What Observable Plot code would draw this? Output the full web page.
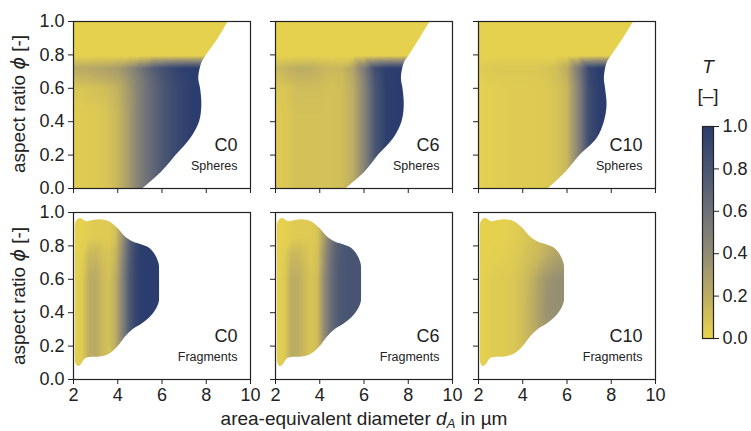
<!DOCTYPE html>
<html><head><meta charset="utf-8">
<script src="https://cdn.jsdelivr.net/npm/d3@7"></script>
<script src="https://cdn.jsdelivr.net/npm/@observablehq/plot@0.6"></script>
<style>
body{margin:0;background:#fff;}
#fig{position:relative;width:751px;height:431px;font-family:"Liberation Sans",Arial,sans-serif;color:#222;overflow:hidden;background:#fff}
#fig svg{position:absolute;overflow:visible;background:transparent}
.lbl{position:absolute;white-space:nowrap;font-size:19px;line-height:1;}
.phi{font-family:"DejaVu Sans";font-style:italic;}
</style></head><body><div id="fig"></div>
<script>
// ---- categories / ticks
const concentrations = ["C0", "C6", "C10"];
const particleTypes = ["Spheres", "Fragments"];
const xTicks = [2, 4, 6, 8, 10];
const yTicks = [0, 0.2, 0.4, 0.6, 0.8, 1.0];
const colorTicks = [0, 0.2, 0.4, 0.6, 0.8, 1.0];
const colorStops = [0, 0.2, 0.4, 0.6, 0.8, 1.0];
const colorRange = ["#ead54d", "#bdad63", "#928c74", "#6e7178", "#4a5672", "#2b3d6e"];

// ---- spheres: right edge of the populated region (d at each phi)
const spherePhi = [0, 0.1, 0.2, 0.3, 0.4, 0.5, 0.6, 0.66, 0.75, 0.8, 0.9, 1.0];
const sphereEdgeC0 = [5.15, 6.0, 6.65, 7.3, 7.7, 7.8, 7.74, 7.66, 7.8, 8.02, 8.56, 9.0];
const sphereEdgeC6 = [5.2, 6.06, 6.66, 7.34, 7.72, 7.82, 7.76, 7.69, 7.82, 8.06, 8.54, 9.0];
const sphereEdgeC10 = [5.17, 5.97, 6.6, 7.36, 7.69, 7.81, 7.74, 7.69, 7.81, 8.04, 8.56, 9.02];

// ---- fragments: outline (top and bottom phi at each d)
const fragD   = [2.05, 2.1, 2.2, 2.33, 2.45, 2.6, 2.9, 3.2, 3.6, 4.0, 4.35, 4.7, 5.1, 5.45, 5.7, 5.85, 5.92, 5.93];
const fragTop = [0.90, 0.935, 0.958, 0.964, 0.955, 0.945, 0.952, 0.957, 0.946, 0.905, 0.853, 0.823, 0.805, 0.785, 0.745, 0.70, 0.64, 0.56];
const fragBot = [0.14, 0.10, 0.078, 0.085, 0.11, 0.128, 0.133, 0.135, 0.15, 0.195, 0.255, 0.30, 0.333, 0.37, 0.41, 0.45, 0.50, 0.56];

// ---- T samples, spheres
const sphereD = [2, 2.5, 3, 3.5, 4, 4.5, 5, 5.5, 6, 6.5, 7, 7.5, 8, 10];
const spherePhiT = [0, 0.15, 0.3, 0.45, 0.6, 0.67, 0.72, 0.795, 0.9, 1.0];
const T_C0_spheres = [
  [0.05,0.05,0.06,0.08,0.15,0.30,0.50,0.65,0.78,0.88,0.95,1,1,1],
  [0.05,0.05,0.06,0.08,0.15,0.30,0.50,0.65,0.78,0.88,0.95,1,1,1],
  [0.05,0.05,0.06,0.08,0.15,0.30,0.50,0.65,0.78,0.88,0.95,1,1,1],
  [0.05,0.05,0.06,0.08,0.15,0.30,0.50,0.65,0.78,0.88,0.95,1,1,1],
  [0.08,0.08,0.10,0.12,0.18,0.32,0.50,0.65,0.78,0.88,0.95,1,1,1],
  [0.16,0.17,0.20,0.22,0.26,0.36,0.52,0.67,0.80,0.90,0.96,1,1,1],
  [0.22,0.22,0.24,0.26,0.30,0.40,0.56,0.72,0.84,0.93,0.98,1,1,1],
  [0.02,0.02,0.02,0.02,0.02,0.02,0.02,0.02,0.02,0.02,0.02,0.02,0.02,0.02],
  [0.02,0.02,0.02,0.02,0.02,0.02,0.02,0.02,0.02,0.02,0.02,0.02,0.02,0.02],
  [0.02,0.02,0.02,0.02,0.02,0.02,0.02,0.02,0.02,0.02,0.02,0.02,0.02,0.02]
];
const T_C6_spheres = [
  [0.05,0.07,0.10,0.10,0.10,0.10,0.12,0.20,0.45,0.80,0.98,1,1,1],
  [0.05,0.07,0.10,0.10,0.10,0.10,0.12,0.20,0.45,0.80,0.98,1,1,1],
  [0.05,0.07,0.10,0.10,0.10,0.10,0.12,0.20,0.45,0.80,0.98,1,1,1],
  [0.05,0.07,0.10,0.10,0.10,0.10,0.12,0.20,0.45,0.80,0.98,1,1,1],
  [0.06,0.08,0.12,0.12,0.12,0.10,0.12,0.20,0.45,0.80,0.98,1,1,1],
  [0.10,0.14,0.17,0.17,0.15,0.12,0.13,0.22,0.48,0.82,0.98,1,1,1],
  [0.14,0.17,0.20,0.20,0.17,0.14,0.15,0.25,0.52,0.86,0.98,1,1,1],
  [0.02,0.02,0.02,0.02,0.02,0.02,0.02,0.02,0.02,0.02,0.02,0.02,0.02,0.02],
  [0.02,0.02,0.02,0.02,0.02,0.02,0.02,0.02,0.02,0.02,0.02,0.02,0.02,0.02],
  [0.02,0.02,0.02,0.02,0.02,0.02,0.02,0.02,0.02,0.02,0.02,0.02,0.02,0.02]
];
const T_C10_spheres = [
  [0.02,0.03,0.04,0.05,0.05,0.05,0.06,0.08,0.15,0.45,0.88,1,1,1],
  [0.02,0.03,0.04,0.05,0.05,0.05,0.06,0.08,0.15,0.45,0.88,1,1,1],
  [0.02,0.03,0.04,0.05,0.05,0.05,0.06,0.08,0.15,0.45,0.88,1,1,1],
  [0.02,0.03,0.04,0.05,0.05,0.05,0.06,0.08,0.15,0.45,0.88,1,1,1],
  [0.02,0.03,0.04,0.05,0.05,0.05,0.06,0.08,0.15,0.45,0.88,1,1,1],
  [0.03,0.05,0.06,0.06,0.06,0.06,0.07,0.10,0.18,0.50,0.90,1,1,1],
  [0.04,0.06,0.07,0.07,0.07,0.07,0.08,0.11,0.20,0.52,0.92,1,1,1],
  [0.02,0.02,0.02,0.02,0.02,0.02,0.02,0.02,0.02,0.02,0.02,0.02,0.02,0.02],
  [0.02,0.02,0.02,0.02,0.02,0.02,0.02,0.02,0.02,0.02,0.02,0.02,0.02,0.02],
  [0.02,0.02,0.02,0.02,0.02,0.02,0.02,0.02,0.02,0.02,0.02,0.02,0.02,0.02]
];

// ---- T samples, fragments
const fragDT = [2, 2.4, 2.7, 3.0, 3.3, 3.6, 3.9, 4.2, 4.5, 4.8, 5.1, 5.5, 6, 10];
const fragPhiT = [0, 0.2, 0.4, 0.6, 0.75, 0.85, 1.0];
const T_C0_fragments = [
  [0.02,0.05,0.20,0.22,0.14,0.10,0.20,0.45,0.75,0.93,1,1,1,1],
  [0.02,0.05,0.20,0.22,0.14,0.10,0.20,0.45,0.75,0.93,1,1,1,1],
  [0.02,0.05,0.20,0.22,0.14,0.10,0.20,0.45,0.75,0.93,1,1,1,1],
  [0.02,0.05,0.20,0.22,0.14,0.10,0.20,0.45,0.75,0.93,1,1,1,1],
  [0.02,0.04,0.14,0.15,0.10,0.08,0.15,0.40,0.72,0.92,1,1,1,1],
  [0.02,0.02,0.04,0.05,0.05,0.05,0.10,0.35,0.68,0.90,1,1,1,1],
  [0.02,0.02,0.04,0.05,0.05,0.05,0.10,0.35,0.68,0.90,1,1,1,1]
];
const T_C6_fragments = [
  [0.02,0.05,0.20,0.20,0.14,0.08,0.12,0.40,0.62,0.76,0.80,0.82,0.82,0.82],
  [0.02,0.05,0.20,0.20,0.14,0.08,0.12,0.40,0.62,0.76,0.80,0.82,0.82,0.82],
  [0.02,0.05,0.20,0.20,0.14,0.08,0.12,0.40,0.62,0.76,0.80,0.82,0.82,0.82],
  [0.02,0.05,0.20,0.20,0.14,0.08,0.12,0.40,0.62,0.76,0.80,0.82,0.82,0.82],
  [0.02,0.04,0.14,0.14,0.10,0.06,0.10,0.35,0.60,0.75,0.80,0.82,0.82,0.82],
  [0.02,0.02,0.04,0.05,0.05,0.05,0.08,0.30,0.55,0.72,0.80,0.82,0.82,0.82],
  [0.02,0.02,0.04,0.05,0.05,0.05,0.08,0.30,0.55,0.72,0.80,0.82,0.82,0.82]
];
const T_C10_fragments = [
  [0.02,0.03,0.05,0.05,0.06,0.07,0.10,0.15,0.20,0.26,0.30,0.30,0.30,0.30],
  [0.02,0.03,0.05,0.05,0.06,0.07,0.10,0.15,0.20,0.26,0.30,0.30,0.30,0.30],
  [0.02,0.03,0.05,0.05,0.06,0.07,0.10,0.15,0.22,0.30,0.36,0.38,0.38,0.38],
  [0.02,0.03,0.05,0.05,0.06,0.07,0.10,0.14,0.20,0.28,0.34,0.38,0.38,0.38],
  [0.02,0.02,0.03,0.03,0.04,0.05,0.07,0.10,0.12,0.15,0.20,0.25,0.28,0.28],
  [0.02,0.02,0.02,0.02,0.03,0.04,0.06,0.08,0.10,0.12,0.15,0.20,0.20,0.20],
  [0.02,0.02,0.02,0.02,0.03,0.04,0.06,0.08,0.10,0.12,0.15,0.20,0.20,0.20]
];

// ---- layout
const frameLefts = [73, 275, 478];
const frameTops = [21, 212];
const FW = 177, FH = 167;
const ML = 50, MR = 8, MT = 6, MB = 32;
const FONT = "'Liberation Sans', Arial, sans-serif";

const fig = document.getElementById("fig");
const colorScale = {type: "linear", domain: colorStops, range: colorRange, interpolate: "rgb", clamp: true};

function samplesOf(dArr, pArr, T) {
  const out = [];
  pArr.forEach((p, i) => dArr.forEach((d, j) => out.push({d, phi: p, T: T[i][j]})));
  return out;
}

const panels = [
  {row: 0, col: 0, conc: "C0", type: "Spheres", T: T_C0_spheres, edge: sphereEdgeC0},
  {row: 0, col: 1, conc: "C6", type: "Spheres", T: T_C6_spheres, edge: sphereEdgeC6},
  {row: 0, col: 2, conc: "C10", type: "Spheres", T: T_C10_spheres, edge: sphereEdgeC10},
  {row: 1, col: 0, conc: "C0", type: "Fragments", T: T_C0_fragments},
  {row: 1, col: 1, conc: "C6", type: "Fragments", T: T_C6_fragments},
  {row: 1, col: 2, conc: "C10", type: "Fragments", T: T_C10_fragments}
];

for (const p of panels) {
  const sph = p.type === "Spheres";
  const samples = sph ? samplesOf(sphereD, spherePhiT, p.T) : samplesOf(fragDT, fragPhiT, p.T);
  const marks = [
    Plot.raster(samples, {x: "d", y: "phi", fill: "T", interpolate: "barycentric", x1: 2, x2: 10, y1: 0, y2: 1, clip: true})
  ];
  if (sph) {
    const pts = spherePhi.map((phi, i) => ({phi, d: p.edge[i]}));
    marks.push(Plot.areaX(pts, {y: "phi", x1: "d", x2: 10, fill: "white", curve: "catmull-rom", clip: true}));
  } else {
    const pts = fragD.map((d, i) => ({d, top: fragTop[i], bot: fragBot[i]}));
    marks.push(Plot.areaY(pts, {x: "d", y1: "top", y2: 1, fill: "white", curve: "catmull-rom", clip: true}));
    marks.push(Plot.areaY(pts, {x: "d", y1: 0, y2: "bot", fill: "white", curve: "catmull-rom", clip: true}));
    marks.push(Plot.rect([0], {x1: 2, x2: fragD[0] + 0.03, y1: 0, y2: 1, fill: "white"}));
    marks.push(Plot.rect([0], {x1: fragD[fragD.length - 1] - 0.04, x2: 10, y1: 0, y2: 1, fill: "white"}));
  }
  marks.push(Plot.frame({stroke: "#222", strokeWidth: 1.2}));
  marks.push(Plot.text([p.conc], {text: d => d, frameAnchor: "bottom-right", dx: -13, dy: -38, fontSize: 18, fill: "#222"}));
  marks.push(Plot.text([p.type], {text: d => d, frameAnchor: "bottom-right", dx: -13, dy: -19, fontSize: 12.5, fill: "#222"}));
  const showX = p.row === 1, showY = p.col === 0;
  const svg = Plot.plot({
    width: FW + ML + MR, height: FH + MT + MB,
    marginLeft: ML, marginRight: MR, marginTop: MT, marginBottom: MB,
    style: {fontFamily: FONT, fontSize: "18px", color: "#222", background: "transparent", overflow: "visible"},
    x: {domain: [2, 10], ticks: xTicks, tickSize: 5, tickPadding: 4, tickFormat: showX ? (d => String(d)) : (() => ""), label: null},
    y: {domain: [0, 1], ticks: yTicks, tickSize: 5, tickPadding: 4, tickFormat: showY ? (d => d.toFixed(1)) : (() => ""), label: null},
    color: colorScale,
    marks
  });
  svg.style.left = (frameLefts[p.col] - ML) + "px";
  svg.style.top = (frameTops[p.row] - MT) + "px";
  fig.appendChild(svg);
}

// ---- colorbar
const cb = Plot.plot({
  width: 11 + 2 + 40, height: 212 + 12,
  marginLeft: 2, marginRight: 40, marginTop: 6, marginBottom: 6,
  style: {fontFamily: FONT, fontSize: "18px", color: "#222", background: "transparent", overflow: "visible"},
  x: {domain: [0, 1], axis: null},
  y: {domain: [0, 1], ticks: colorTicks, tickSize: 5, tickPadding: 4, tickFormat: d => d.toFixed(1), axis: "right", label: null},
  color: colorScale,
  marks: [
    Plot.raster({fill: (x, y) => y, x1: 0, x2: 1, y1: 0, y2: 1}),
    Plot.frame({stroke: "#222", strokeWidth: 1.2})
  ]
});
cb.style.left = (702 - 2) + "px";
cb.style.top = (126 - 6) + "px";
fig.appendChild(cb);

// ---- text labels
function addLabel(html, css) {
  const el = document.createElement("div");
  el.className = "lbl";
  el.innerHTML = html;
  Object.assign(el.style, css);
  fig.appendChild(el);
  return el;
}
const yLab = 'aspect ratio <span class="phi">ϕ</span> [-]';
addLabel(yLab, {left: "18px", top: "104px", transform: "translate(-50%,-50%) rotate(-90deg)"});
addLabel(yLab, {left: "18px", top: "296px", transform: "translate(-50%,-50%) rotate(-90deg)"});
addLabel('area-equivalent diameter <i>d</i><span style="font-size:13px;font-style:italic;position:relative;top:3px">A</span> in µm',
  {left: "364px", top: "409px", transform: "translateX(-50%)"});
addLabel('<i>T</i>', {left: "708px", top: "57px", transform: "translateX(-50%)"});
addLabel('[–]', {left: "708px", top: "86px", transform: "translateX(-50%)"});
</script></body></html>
